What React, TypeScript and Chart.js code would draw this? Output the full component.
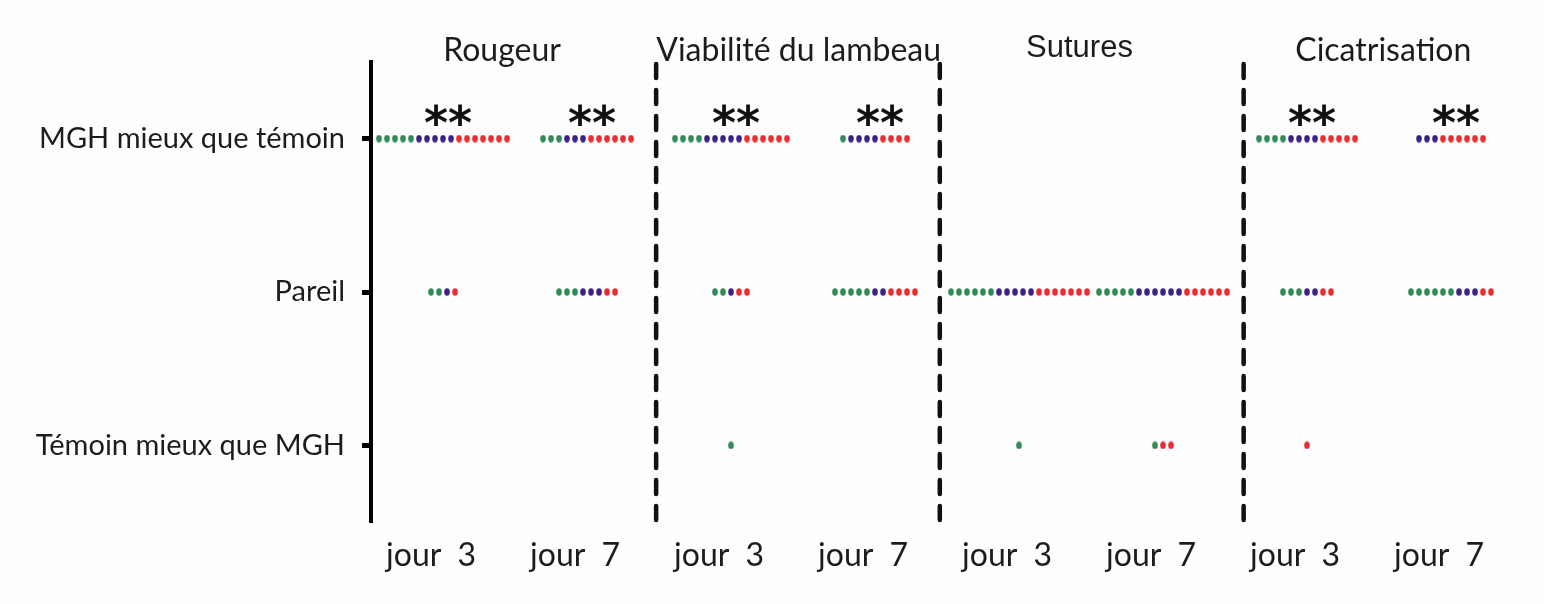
import React, { useEffect, useRef } from 'react';
import { Chart, registerables } from 'chart.js';

Chart.register(...registerables);

// ---- data ----
const columnLabels = ['jour 3', 'jour 7', 'jour 3', 'jour 7', 'jour 3', 'jour 7', 'jour 3', 'jour 7'];
const groupTitles = ['Rougeur', 'Viabilité du lambeau', 'Sutures', 'Cicatrisation'];
const titleAt = [0.41, 2.47, 4.42, 6.53];
const levelLabels = ['Témoin mieux que MGH', 'Pareil', 'MGH mieux que témoin'];
const significant = [true, true, true, true, false, false, true, true];
const dividerAt = [1.48, 3.45, 5.56];

// counts per column, by response level
const greenMieux = [5, 3, 4, 1, 0, 0, 4, 0];
const blueMieux = [5, 3, 5, 4, 0, 0, 4, 3];
const redMieux = [7, 6, 6, 4, 0, 0, 5, 6];

const greenPareil = [2, 3, 2, 5, 6, 5, 3, 6];
const bluePareil = [1, 3, 1, 2, 5, 6, 2, 3];
const redPareil = [1, 2, 2, 4, 7, 6, 2, 2];

const greenTemoin = [0, 0, 1, 0, 1, 1, 0, 0];
const blueTemoin = [0, 0, 0, 0, 0, 0, 0, 0];
const redTemoin = [0, 0, 0, 0, 0, 2, 1, 0];

// ---- styles ----
const GREEN = '#2f8a55';
const BLUE = '#3a2288';
const RED = '#ec2b30';
const TEXT = '#1c1c1c';
const DOT_STEP = 0.0556; // horizontal spacing of stacked dots, in category units

function makeDot(color: string): HTMLCanvasElement {
  const c = document.createElement('canvas');
  c.width = 6;
  c.height = 8;
  const ctx = c.getContext('2d')!;
  ctx.fillStyle = color;
  ctx.beginPath();
  ctx.ellipse(3, 4, 2.8, 3.7, 0, 0, Math.PI * 2);
  ctx.fill();
  return c;
}

function buildPoints() {
  const g: { x: number; y: number }[] = [];
  const b: { x: number; y: number }[] = [];
  const r: { x: number; y: number }[] = [];
  const levels = [
    [greenTemoin, blueTemoin, redTemoin],
    [greenPareil, bluePareil, redPareil],
    [greenMieux, blueMieux, redMieux],
  ];
  levels.forEach(([gs, bs, rs], level) => {
    columnLabels.forEach((_, col) => {
      const n = gs[col] + bs[col] + rs[col];
      for (let i = 0; i < n; i++) {
        const pt = { x: col + (i - (n - 1) / 2) * DOT_STEP, y: level };
        if (i < gs[col]) g.push(pt);
        else if (i < gs[col] + bs[col]) b.push(pt);
        else r.push(pt);
      }
    });
  });
  return { g, b, r };
}

const decorPlugin = {
  id: 'decor',
  beforeDraw(chart: any) {
    const { ctx, width, height } = chart;
    ctx.save();
    ctx.fillStyle = '#fefefe';
    ctx.fillRect(0, 0, width, height);
    ctx.restore();
  },
  afterDatasetsDraw(chart: any) {
    const { ctx, chartArea, scales } = chart;
    const xs = scales.x;
    const ys = scales.y;
    ctx.save();
    // dashed dividers between groups
    ctx.strokeStyle = '#111';
    ctx.lineWidth = 4.5;
    ctx.lineCap = 'round';
    ctx.setLineDash([14, 12]);
    dividerAt.forEach((v) => {
      const px = xs.getPixelForValue(v);
      ctx.beginPath();
      ctx.moveTo(px, chartArea.top + 2);
      ctx.lineTo(px, chartArea.bottom);
      ctx.stroke();
    });
    ctx.setLineDash([]);
    // group titles
    ctx.fillStyle = TEXT;
    ctx.textAlign = 'center';
    ctx.textBaseline = 'alphabetic';
    groupTitles.forEach((t, gi) => {
      const px = xs.getPixelForValue(titleAt[gi]);
      if (t === 'Sutures') {
        ctx.font = '31px "Liberation Sans", Arial, sans-serif';
        ctx.fillText(t, px, chartArea.top - 5);
      } else {
        ctx.font = '32px Lato, sans-serif';
        ctx.fillText(t, px, chartArea.top - 1);
      }
    });
    // significance stars
    ctx.fillStyle = '#111';
    ctx.font = 'bold 46px "DejaVu Sans", sans-serif';
    const yTop = ys.getPixelForValue(2);
    significant.forEach((s, col) => {
      if (!s) return;
      ctx.fillText('**', xs.getPixelForValue(col) + 5, yTop);
    });
    ctx.restore();
  },
};

export default function App() {
  const ref = useRef<HTMLCanvasElement | null>(null);
  useEffect(() => {
    if (!ref.current) return;
    const { g, b, r } = buildPoints();
    const chart = new Chart(ref.current, {
      type: 'scatter',
      data: {
        datasets: [
          { label: 'vert', data: g, pointStyle: makeDot(GREEN) as any, backgroundColor: GREEN },
          { label: 'bleu', data: b, pointStyle: makeDot(BLUE) as any, backgroundColor: BLUE },
          { label: 'rouge', data: r, pointStyle: makeDot(RED) as any, backgroundColor: RED },
        ],
      },
      options: {
        animation: false,
        responsive: true,
        maintainAspectRatio: false,
        layout: { padding: { top: 62, right: 21, left: 0, bottom: 0 } },
        plugins: { legend: { display: false }, tooltip: { enabled: false } },
        scales: {
          x: {
            type: 'linear',
            min: -0.5,
            max: 7.5,
            afterBuildTicks: (s: any) => {
              s.ticks = columnLabels.map((_, i) => ({ value: i }));
            },
            afterFit: (s: any) => {
              s.height = 82;
            },
            ticks: {
              callback: (_v: any, i: number) => columnLabels[i].replace(' ', '\u2002'),
              font: { family: 'Lato', size: 32 },
              color: TEXT,
              padding: 14,
              labelOffset: -12,
              maxRotation: 0,
              autoSkip: false,
            },
            grid: { display: false, drawTicks: false },
            border: { display: false },
          },
          y: {
            type: 'linear',
            min: -0.5,
            max: 2.5,
            afterBuildTicks: (s: any) => {
              s.ticks = levelLabels.map((_, i) => ({ value: i }));
            },
            afterFit: (s: any) => {
              s.width = 371;
            },
            ticks: {
              callback: (_v: any, i: number) => levelLabels[i],
              font: { family: 'Lato', size: 29 },
              color: TEXT,
              padding: 17,
            },
            grid: { drawOnChartArea: false, tickLength: 9, tickWidth: 5, tickColor: '#000' },
            border: { color: '#000', width: 4 },
          },
        },
      },
      plugins: [decorPlugin],
    });
    return () => chart.destroy();
  }, []);
  return (
    <div style={{ position: 'absolute', left: 0, top: 0, width: 1544, height: 604 }}>
      <canvas ref={ref} />
    </div>
  );
}
